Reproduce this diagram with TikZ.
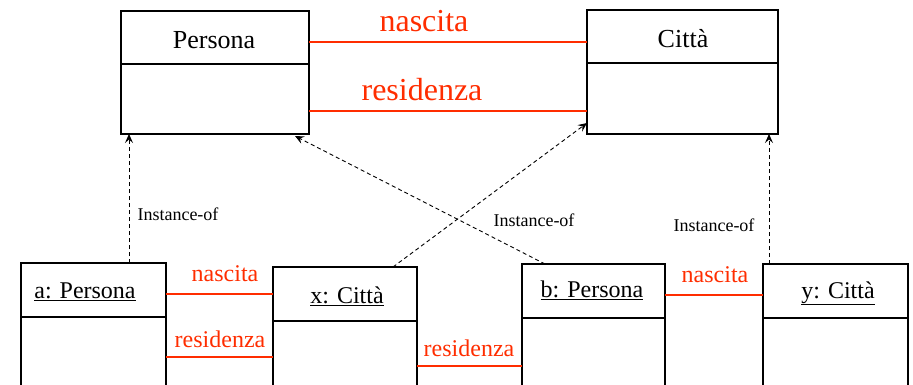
\documentclass[tikz,border=0pt]{standalone}
\usepackage{fontspec}
\setmainfont{Liberation Serif}
\usetikzlibrary{arrows.meta}
\definecolor{relred}{RGB}{255,45,0}
\tikzset{
  clsbox/.style={draw, line width=1.9pt, inner sep=0pt, outer sep=0pt, anchor=north west},
  divline/.style={line width=1.9pt},
  rel/.style={draw=relred, line width=1.8pt},
  toptitle/.style={font=\fontsize{26}{30}\selectfont, anchor=base, inner sep=0pt},
  objtitle/.style={font=\fontsize{24}{28}\selectfont, anchor=base, inner sep=0pt},
  toprel/.style={font=\fontsize{32}{36}\selectfont, text=relred, anchor=base, inner sep=0pt},
  objrel/.style={font=\fontsize{24}{28}\selectfont, text=relred, anchor=base, inner sep=0pt},
  instlbl/.style={font=\fontsize{18}{22}\selectfont, anchor=base, inner sep=0pt},
  inst/.style={dashed, dash pattern=on 4pt off 3pt, line width=0.9pt, -{Stealth[length=9pt,width=8pt,inset=3.5pt]}}
}
\begin{document}
\begin{tikzpicture}[x=1pt,y=-1pt]
\clip (0,0) rectangle (913,385);
% class boxes
\node[clsbox, minimum width=188pt, minimum height=123pt] (P) at (121,11) {};
\draw[divline] (121,64) -- (309,64);
\node[toptitle] (Pt) at (214,49) {Persona};
\node[clsbox, minimum width=191pt, minimum height=124pt] (C) at (587,10) {};
\draw[divline] (587,63) -- (778,63);
\node[toptitle] (Ct) at (683,48) {Città};
% object boxes
\node[clsbox, minimum width=145pt, minimum height=140pt] (a) at (21,263) {};
\draw[divline] (21,317) -- (166,317);
\node[objtitle] (at) at (85,298) {\underline{a: Persona}};
\node[clsbox, minimum width=144pt, minimum height=140pt] (x) at (273,267) {};
\draw[divline] (273,321) -- (417,321);
\node[objtitle] (xt) at (347,303) {\underline{x: Città}};
\node[clsbox, minimum width=143pt, minimum height=140pt] (b) at (522,264) {};
\draw[divline] (522,318) -- (665,318);
\node[objtitle] (bt) at (592,297) {\underline{b: Persona}};
\node[clsbox, minimum width=145pt, minimum height=140pt] (y) at (763,264) {};
\draw[divline] (763,318) -- (908,318);
\node[objtitle] (yt) at (838,298) {\underline{y: Città}};
% relations top
\draw[rel] (P.east |- 0,42) -- (C.west |- 0,42);
\node[toprel] (n1) at (424,32) {nascita};
\draw[rel] (P.east |- 0,111) -- (C.west |- 0,111);
\node[toprel] (r1) at (422,101) {residenza};
% relations bottom
\draw[rel] (a.east |- 0,294) -- (x.west |- 0,294);
\node[objrel] (n2) at (225,281) {nascita};
\draw[rel] (a.east |- 0,357) -- (x.west |- 0,357);
\node[objrel] (r2) at (220,347) {residenza};
\draw[rel] (x.east |- 0,366) -- (b.west |- 0,366);
\node[objrel] (r3) at (469,356) {residenza};
\draw[rel] (b.east |- 0,295) -- (y.west |- 0,295);
\node[objrel] (n3) at (715,282) {nascita};
% instance-of
\draw[inst] (a.north -| 129,0) -- (P.south -| 129,0);
\node[instlbl] (i1) at (178,220) {Instance-of};
\draw[inst] (b.north -| 545,0) -- (295,136);
\draw[inst] (x.north -| 393,0) -- (C.west |- 0,123);
\node[instlbl] (i2) at (534,226) {Instance-of};
\draw[inst] (y.north -| 769,0) -- (C.south -| 769,0);
\node[instlbl] (i3) at (714,231) {Instance-of};
\end{tikzpicture}
\end{document}
